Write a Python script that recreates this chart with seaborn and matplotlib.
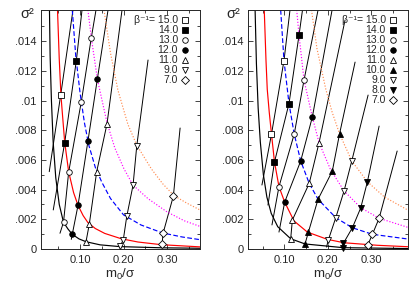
import matplotlib
matplotlib.use("Agg")
import matplotlib.pyplot as plt
import seaborn as sns

# ---- left panel data ----
L_betas = [15.0, 14.0, 13.0, 12.0, 11.0, 9.0, 7.0]
L_top_x = [0.0836, 0.1044, 0.1366, 0.1643, 0.1965, 0.2564, 0.3302]
L_top_y = [0.0161, 0.0161, 0.0161, 0.0161, 0.0161, 0.01273, 0.00815]
L_bot_x = [0.0290, 0.0382, 0.0537, 0.0797, 0.1124, 0.1908, 0.2880]
L_bot_y = [0.00521, 0.00263, 0.00106, 0.00065, 0.00037, 0.00007, 0.00008]
L_mark_x = [[0.0553], [0.0912, 0.0645], [0.1258, 0.1028, 0.0737, 0.0618],
            [0.1396, 0.1182, 0.0952, 0.0820], [0.1620, 0.1382, 0.1212, 0.1136],
            [0.2304, 0.2219, 0.2074, 0.1995, 0.1919], [0.3147, 0.2910, 0.2887]]
L_mark_y = [[0.01037], [0.01266, 0.00716], [0.01423, 0.00992, 0.00519, 0.0018],
            [0.01143, 0.00730, 0.00294, 0.00099], [0.00844, 0.00521, 0.00168, 0.00049],
            [0.00694, 0.0043, 0.0022, 0.00063, 0.00017], [0.00357, 0.00106, 0.00032]]

L_black_x = [0.0295, 0.031, 0.034, 0.038, 0.044, 0.052, 0.0618, 0.072, 0.082, 0.0975, 0.1136, 0.146, 0.192, 0.289, 0.378]
L_black_y = [0.0161, 0.0130, 0.0100, 0.0072, 0.0048, 0.0030, 0.0018, 0.00135, 0.00099, 0.00068, 0.00049, 0.00028, 0.00016, 0.00008, 0.00005]
L_red_x = [0.048, 0.052, 0.056, 0.0645, 0.0737, 0.085, 0.0952, 0.107, 0.1182, 0.135, 0.1567, 0.1949, 0.2334, 0.2871, 0.378]
L_red_y = [0.0161, 0.0128, 0.0103, 0.0072, 0.0052, 0.0038, 0.00294, 0.00225, 0.00177, 0.00138, 0.00105, 0.00069, 0.00047, 0.00029, 0.00014]
L_blue_x = [0.082, 0.090, 0.100, 0.110, 0.120, 0.135, 0.150, 0.170, 0.200, 0.240, 0.290, 0.335, 0.378]
L_blue_y = [0.0161, 0.0130, 0.0105, 0.0085, 0.0070, 0.0055, 0.0045, 0.0034, 0.0023, 0.00162, 0.00108, 0.00081, 0.00062]
L_mag_x = [0.118, 0.126, 0.140, 0.162, 0.180, 0.201, 0.222, 0.256, 0.300, 0.340, 0.378]
L_mag_y = [0.0161, 0.0142, 0.0114, 0.0085, 0.0068, 0.0054, 0.0043, 0.0034, 0.0025, 0.0019, 0.00150]
L_org_x = [0.155, 0.170, 0.187, 0.210, 0.2304, 0.264, 0.290, 0.316, 0.345, 0.378]
L_org_y = [0.0161, 0.0132, 0.0107, 0.0084, 0.0070, 0.0054, 0.0044, 0.0036, 0.0031, 0.0026]

# ---- right panel data ----
R_betas = [15.0, 14.0, 13.0, 12.0, 11.0, 10.0, 9.0, 8.0, 7.0]
R_top_x = [0.1131, 0.1418, 0.1775, 0.2097, 0.2395, 0.2625, 0.2924, 0.3177, 0.3591]
R_top_y = [0.0161, 0.0161, 0.0161, 0.0161, 0.01542, 0.01259, 0.01037, 0.00828, 0.0066]
R_bot_x = [0.0487, 0.0625, 0.0717, 0.0878, 0.1120, 0.1464, 0.1970, 0.2349, 0.2901]
R_bot_y = [0.00431, 0.00296, 0.00162, 0.00114, 0.00047, 0.0002, 0.00013, 0.00009, 0.00008]
R_mark_x = [[0.0993, 0.0706], [0.1338, 0.1108, 0.0775], [0.1453, 0.1228, 0.0878],
            [0.1644, 0.1377, 0.1009], [0.1798, 0.1572, 0.1185, 0.1147],
            [0.2269, 0.2103, 0.1775, 0.1552, 0.1476], [0.2549, 0.2372, 0.2182, 0.2011],
            [0.2908, 0.2756, 0.2563, 0.2356, 0.2349], [0.3177, 0.3023, 0.2917]]
R_mark_y = [[0.01269, 0.00774], [0.0144, 0.0098, 0.00586], [0.01138, 0.00774, 0.0042],
            [0.00889, 0.00593, 0.00316], [0.00716, 0.00442, 0.00195, 0.00069],
            [0.00776, 0.00525, 0.00335, 0.00112, 0.00034], [0.00593, 0.00391, 0.00211, 0.00061],
            [0.00453, 0.00278, 0.00143, 0.00038, 0.00009], [0.00207, 0.00099, 0.00027]]

R_black_x = [0.033, 0.036, 0.040, 0.045, 0.052, 0.060, 0.070, 0.085, 0.1147, 0.1476, 0.2349, 0.384]
R_black_y = [0.0161, 0.0125, 0.0095, 0.0072, 0.0050, 0.0035, 0.0024, 0.0015, 0.00069, 0.00034, 0.00009, 0.00003]
R_red_x = [0.054, 0.058, 0.0609, 0.0655, 0.0706, 0.0775, 0.0878, 0.1009, 0.1223, 0.1529, 0.1989, 0.2372, 0.3138, 0.386]
R_red_y = [0.0161, 0.0127, 0.01075, 0.0092, 0.00774, 0.00586, 0.0042, 0.00316, 0.00189, 0.00114, 0.00065, 0.00042, 0.00025, 0.00015]
R_blue_x = [0.0917, 0.0993, 0.1108, 0.1228, 0.1377, 0.1572, 0.1775, 0.2182, 0.2563, 0.3023, 0.3844]
R_blue_y = [0.0161, 0.01269, 0.0098, 0.00774, 0.00593, 0.00442, 0.00335, 0.00211, 0.00143, 0.00099, 0.00067]
R_mag_x = [0.1285, 0.1338, 0.1453, 0.1644, 0.1798, 0.2062, 0.2372, 0.2756, 0.3177, 0.3867]
R_mag_y = [0.0161, 0.0144, 0.01138, 0.00889, 0.00716, 0.00535, 0.00391, 0.00278, 0.00207, 0.00143]
R_org_x = [0.1625, 0.175, 0.195, 0.210, 0.2269, 0.2549, 0.2908, 0.330, 0.385]
R_org_y = [0.0161, 0.0135, 0.0108, 0.0092, 0.00776, 0.00593, 0.00453, 0.0035, 0.0026]

y_ticks = [0, 0.002, 0.004, 0.006, 0.008, 0.010, 0.012, 0.014]
y_labels = ["0", ".002", ".004", ".006", ".008", ".01", ".012", ".014"]
x_ticks = [0.1, 0.2, 0.3]
x_labels = ["0.10", "0.20", "0.30"]

# marker per beta^-1: (marker, filled)
marker_style = {15.0: ("s", False), 14.0: ("s", True), 13.0: ("o", False), 12.0: ("o", True),
                11.0: ("^", False), 10.0: ("^", True), 9.0: ("v", False), 8.0: ("v", True),
                7.0: ("D", False)}

sns.set_style("ticks")
plt.rcParams["font.family"] = ["Liberation Sans", "DejaVu Sans"]
plt.rcParams["mathtext.fontset"] = "custom"
plt.rcParams["mathtext.rm"] = "Liberation Sans"
plt.rcParams["mathtext.it"] = "Liberation Sans:italic"


def draw_panel(ax, betas, top_x, top_y, bot_x, bot_y, mark_x, mark_y, curves, xlim):
    # fixed-beta lines
    for i in range(len(betas)):
        xs = [top_x[i]] + mark_x[i] + [bot_x[i]]
        ys = [top_y[i]] + mark_y[i] + [bot_y[i]]
        sns.lineplot(x=xs, y=ys, ax=ax, sort=False, estimator=None, color="black", lw=0.7)
    # constant-mass curves
    for cx, cy, col, ls in curves:
        sns.lineplot(x=cx, y=cy, ax=ax, sort=False, estimator=None, color=col, lw=0.85, linestyle=ls)
    # markers
    for i, b in enumerate(betas):
        m, filled = marker_style[b]
        ax.plot(mark_x[i], mark_y[i], ls="none", marker=m, ms=4 if m != "D" else 3.6,
                mfc="black" if filled else "white", mec="black", mew=0.6, clip_on=False, zorder=5)

    ax.set_xlim(*xlim)
    ax.set_ylim(0, 0.0161)
    ax.set_xticks(x_ticks)
    ax.set_xticklabels(x_labels)
    ax.set_xticks([0.05, 0.15, 0.25, 0.35], minor=True)
    ax.set_yticks(y_ticks)
    ax.set_yticklabels(y_labels)
    ax.set_yticks([0.001 * k for k in range(1, 17, 2)], minor=True)
    ax.tick_params(which="both", direction="in", top=True, right=True, labelsize=8, width=0.6)
    ax.tick_params(which="major", length=3.5)
    ax.tick_params(which="minor", length=2)
    ax.tick_params(axis="x", pad=4.5)
    ax.tick_params(axis="y", pad=3)
    for s in ax.spines.values():
        s.set_linewidth(0.7)
    ax.set_xlabel("m$_0$/σ", fontsize=9.5, labelpad=1)
    ax.set_ylabel("")
    ax.text(-0.13, 0.985, "σ²", transform=ax.transAxes, fontsize=10.5, ha="left", va="center")

    # key: label right-aligned, marker to its right
    for i, b in enumerate(betas):
        yy = (249 - (20.3 + 10.0 * i)) / 239
        lab = "%.1f" % b
        if i == 0:
            lab = "β⁻¹= " + lab
        ax.text(0.862, yy, lab, transform=ax.transAxes, fontsize=7.5, ha="right", va="center")
        m, filled = marker_style[b]
        ax.plot([0.905], [yy], transform=ax.transAxes, ls="none", marker=m,
                ms=4 if m != "D" else 3.6, mfc="black" if filled else "white", mec="black",
                mew=0.6, clip_on=False)


fig = plt.figure(figsize=(4.15, 2.9), dpi=100)
ax1 = fig.add_axes([41 / 415, 41 / 290, 159 / 415, 239 / 290])
ax2 = fig.add_axes([247.7 / 415, 41 / 290, 160.3 / 415, 239 / 290])

dash = (0, (4, 2))
dot = (0, (1, 1.5))
draw_panel(ax1, L_betas, L_top_x, L_top_y, L_bot_x, L_bot_y, L_mark_x, L_mark_y,
           [(L_black_x, L_black_y, "black", "-"), (L_red_x, L_red_y, "#ff0000", "-"),
            (L_blue_x, L_blue_y, "#0000ff", dash), (L_mag_x, L_mag_y, "#ff00ff", dot),
            (L_org_x, L_org_y, "#ff8c50", dot)],
           (0.01, 0.376))
draw_panel(ax2, R_betas, R_top_x, R_top_y, R_bot_x, R_bot_y, R_mark_x, R_mark_y,
           [(R_black_x, R_black_y, "black", "-"), (R_red_x, R_red_y, "#ff0000", "-"),
            (R_blue_x, R_blue_y, "#0000ff", dash), (R_mag_x, R_mag_y, "#ff00ff", dot),
            (R_org_x, R_org_y, "#ff8c50", dot)],
           (0.016, 0.384))

fig.savefig("out.png", dpi=100)
